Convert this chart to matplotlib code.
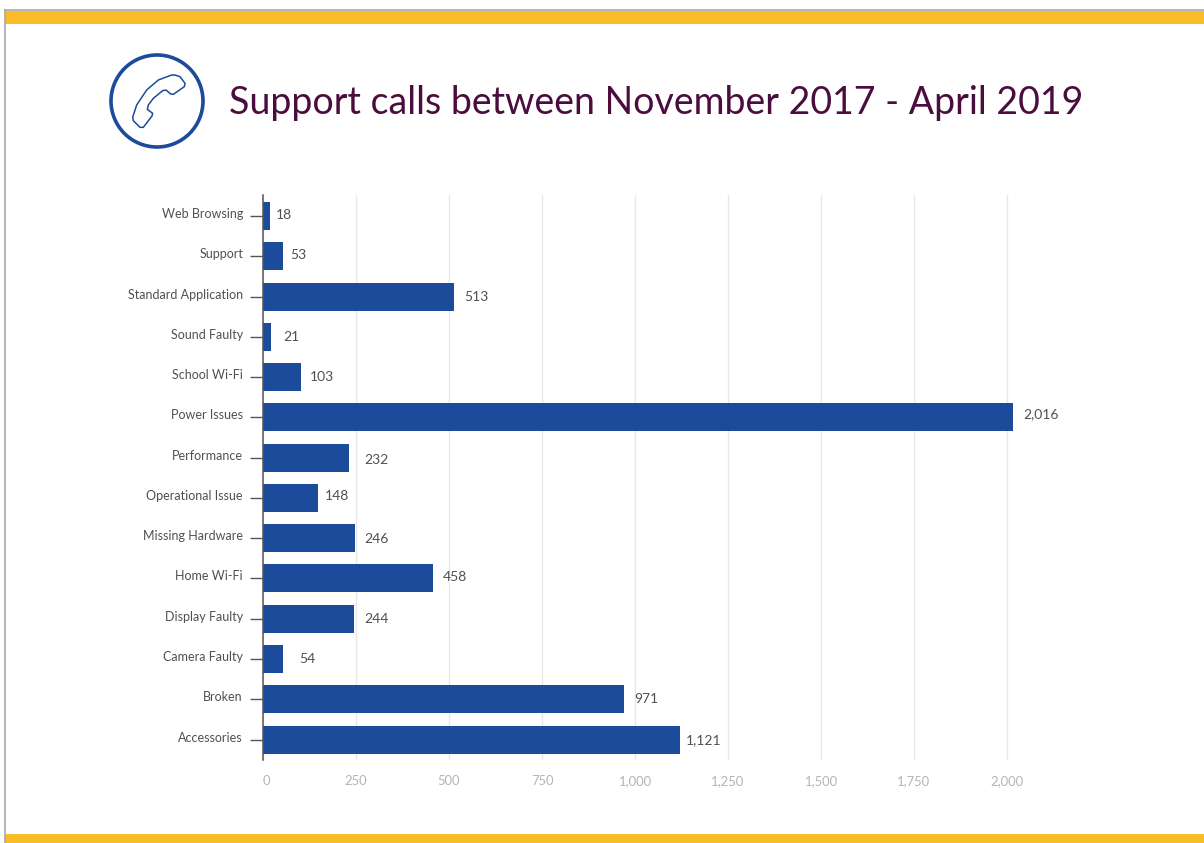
import matplotlib
matplotlib.use("Agg")
import matplotlib.pyplot as plt
import numpy as np
from matplotlib.patches import Circle, Rectangle, PathPatch
from matplotlib.path import Path
from matplotlib.transforms import ScaledTranslation

W, H = 1204, 843

categories = ["Web Browsing", "Support", "Standard Application", "Sound Faulty",
              "School Wi-Fi", "Power Issues", "Performance", "Operational Issue",
              "Missing Hardware", "Home Wi-Fi", "Display Faulty", "Camera Faulty",
              "Broken", "Accessories"]
calls = [18, 53, 513, 21, 103, 2016, 232, 148, 246, 458, 244, 54, 971, 1121]
xticks = [0, 250, 500, 750, 1000, 1250, 1500, 1750, 2000]

# hand placed nudges for the value labels, in pixels
label_dx = [6, 8, 10, 12, 9, 10, 15, 7, 10, 9, 11, 16, 10, 6]
label_dy = [1, 1, 0, 0, 0, 3, -2, 2, -1, 1, 0, 0, 0, -1]

BLUE = "#1c4b9c"
PURPLE = "#4a0d3e"
YELLOW = "#f7bc27"
GREY = "#a8a8a8"
px = 0.72  # points per pixel at dpi 100

plt.rcParams["font.family"] = ["Lato", "DejaVu Sans"]

fig = plt.figure(figsize=(W / 100, H / 100), dpi=100, facecolor="white")

# page furniture drawn in pixel coordinates
bg = fig.add_axes([0, 0, 1, 1])
bg.set_xlim(0, W)
bg.set_ylim(H, 0)
bg.axis("off")
bg.add_patch(Rectangle((5, 11), W, 13, color=YELLOW, lw=0))
bg.add_patch(Rectangle((5, 834), W, 9, color=YELLOW, lw=0))
bg.plot([5, 5], [10, 843], color=GREY, lw=1.2)
bg.plot([5, W], [10, 10], color=GREY, lw=1.2)

# phone icon
bg.add_patch(Circle((157, 101), 46, fill=False, ec=BLUE, lw=2.6))
handset = np.array([(255, 135), (270, 140), (285, 160), (283, 170), (250, 193), (242, 192),
                    (228, 180), (218, 182), (190, 205), (175, 225), (172, 238), (188, 250),
                    (186, 258), (160, 292), (150, 292), (130, 272), (128, 262), (140, 225),
                    (170, 180), (205, 150), (245, 135), (255, 135)], dtype=float)
outline = np.column_stack([90 + handset[:, 0] / 3, 30 + handset[:, 1] / 3])
bg.add_patch(PathPatch(Path(outline), fill=False, ec=BLUE, lw=1.1, joinstyle="round"))

bg.text(229, 103, "Support calls between November 2017 - April 2019", color=PURPLE,
        fontsize=27, va="center", ha="left")

# chart area spans x 263..1030 and y 195..760 on the page
x_scale = 0.372
ax = fig.add_axes([263 / W, 1 - 760 / H, (1030 - 263) / W, (760 - 195) / H])
ax.set_facecolor("none")
ax.set_xlim(0, (1030 - 263) / x_scale)
step = (739.5 - 216) / 13
ax.set_ylim((760 - 216) / step, -(216 - 195) / step)

pos = np.arange(len(categories))
ax.barh(pos, calls, height=28 / step, color=BLUE, zorder=3)

for i, v in enumerate(calls):
    ax.annotate(f"{v:,}", (v, i), xytext=(label_dx[i] * px, label_dy[i] * px),
                textcoords="offset points", va="center", ha="left",
                fontsize=10, color="#505050")

ax.set_xticks(xticks)
ax.set_xticklabels([f"{t:,}" for t in xticks])
ax.set_yticks(pos)
ax.set_yticklabels(categories)
ax.grid(axis="x", color="#e8e8e8", lw=1.0, zorder=0)
ax.set_axisbelow(True)
for s in ["top", "right", "bottom"]:
    ax.spines[s].set_visible(False)
ax.spines["left"].set_color("#555555")
ax.spines["left"].set_linewidth(1.1)
ax.spines["left"].set_zorder(5)
ax.tick_params(axis="x", length=0, pad=11, labelsize=9.4, labelcolor="#b4b4b4")
ax.tick_params(axis="y", length=13 * px, width=1.0, color="#555555", pad=7 * px,
               labelsize=9.0, labelcolor="#505050")
# category names sit a little above their tick
up = ScaledTranslation(0, 3 / 100, fig.dpi_scale_trans)
for lab in ax.get_yticklabels():
    lab.set_transform(lab.get_transform() + up)
# the zero label sits slightly right of its gridline
ax.get_xticklabels()[0].set_transform(
    ax.get_xticklabels()[0].get_transform() + ScaledTranslation(3 / 100, 0, fig.dpi_scale_trans))

fig.savefig("out.png", dpi=100)
